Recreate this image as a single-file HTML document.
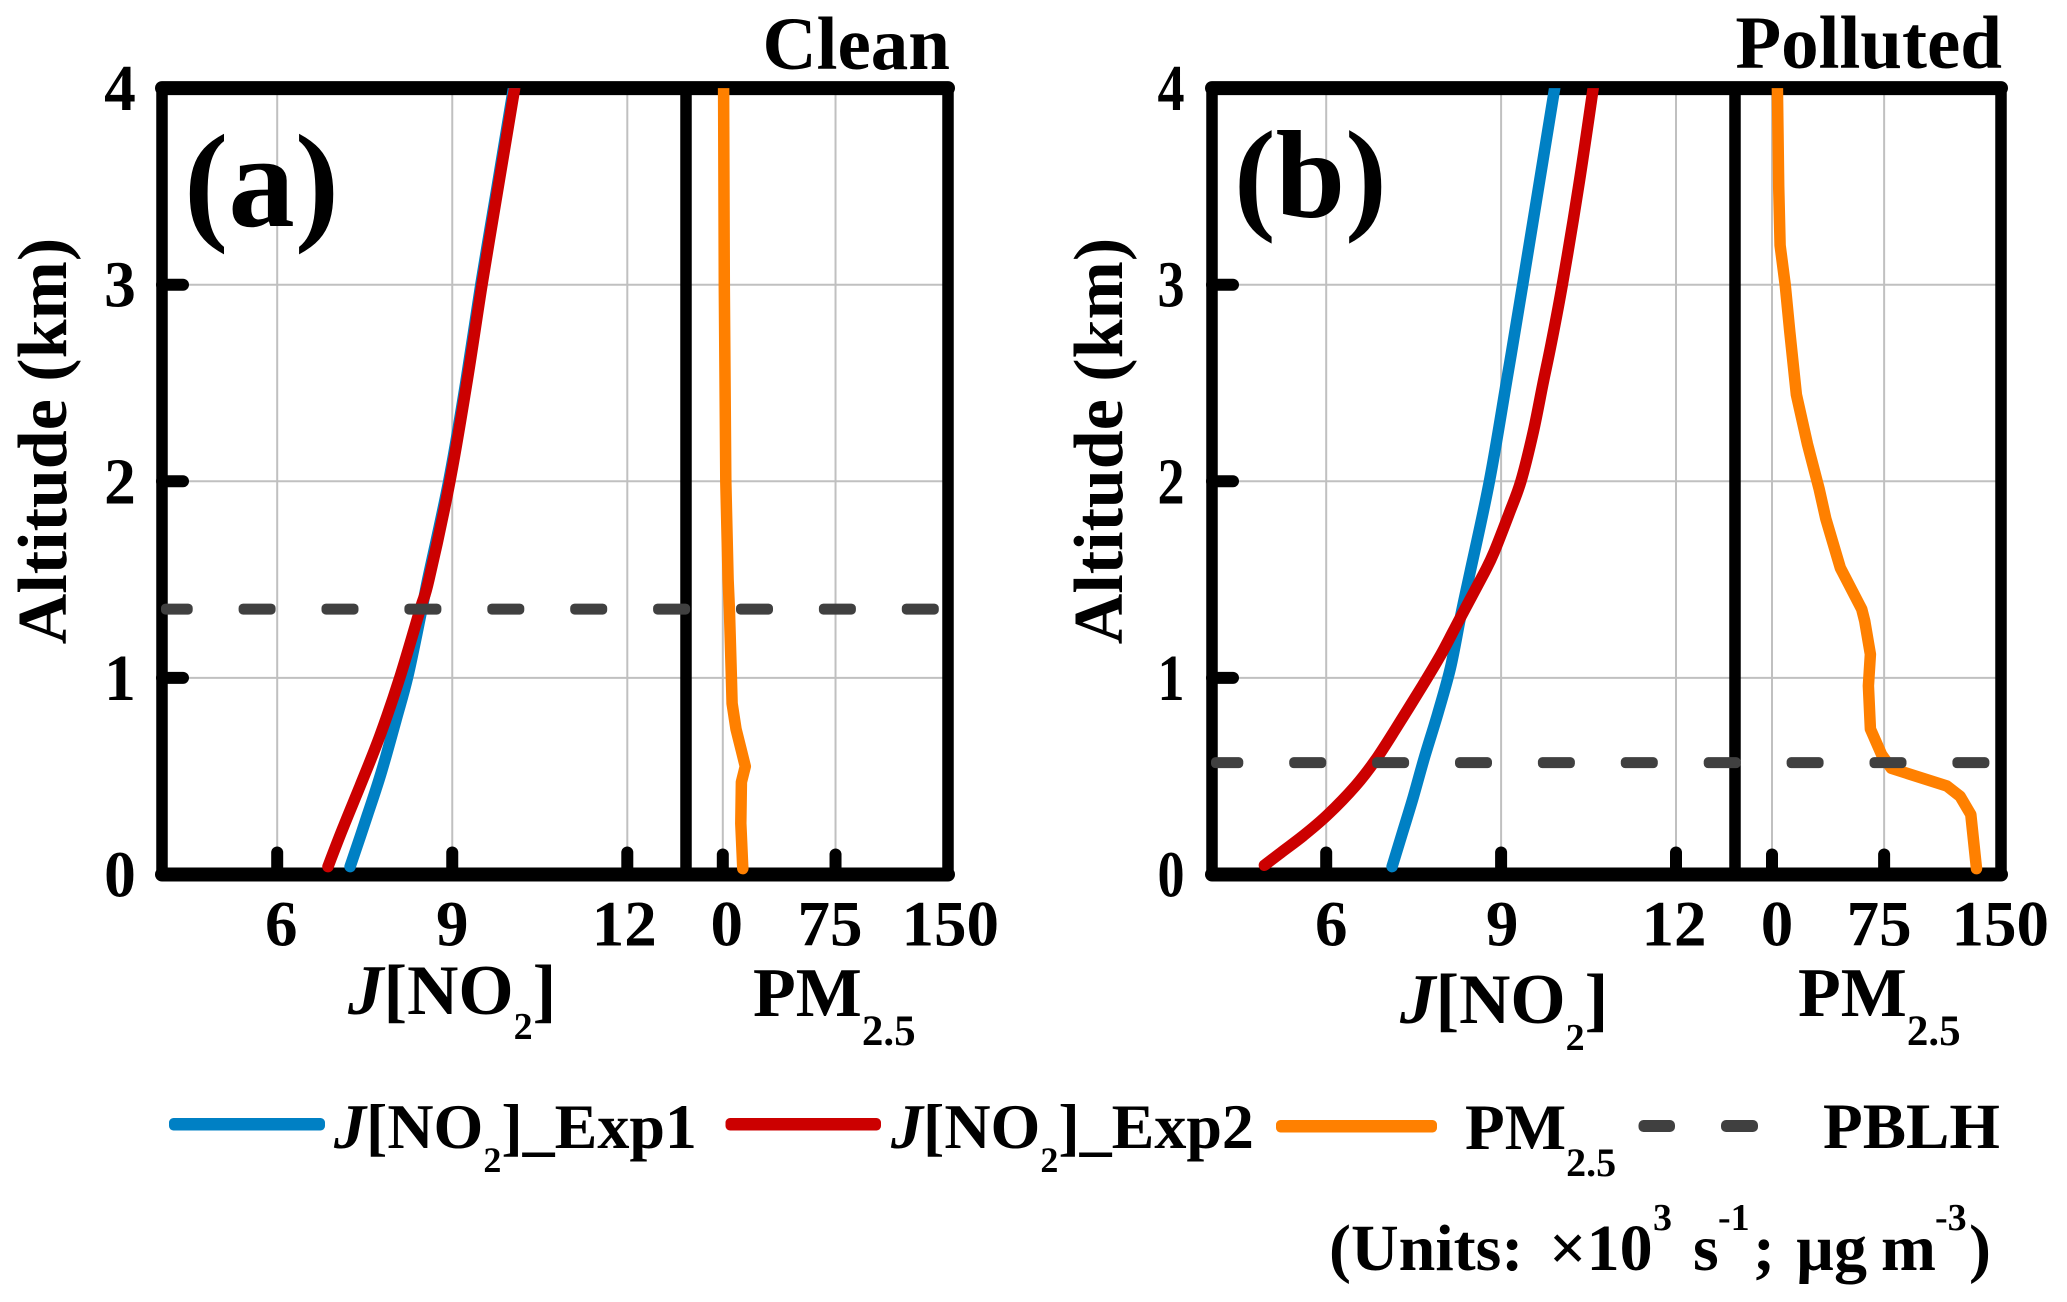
<!DOCTYPE html>
<html>
<head>
<meta charset="utf-8">
<title>J[NO2] and PM2.5 profiles</title>
<style>
html,body{margin:0;padding:0;background:#fff;}
svg{display:block;}
text{font-family:"Liberation Serif","DejaVu Serif",serif;font-weight:bold;fill:#000;}
</style>
</head>
<body>
<svg id="chart" xmlns="http://www.w3.org/2000/svg" width="2067" height="1302" viewBox="0 0 2067 1302">
<rect x="0" y="0" width="2067" height="1302" fill="#fff"/>
<g id="plots"></g>

<text x="950" y="69" font-size="75" text-anchor="end">Clean</text>
<text x="2002" y="68" font-size="75" text-anchor="end">Polluted</text>
<text x="184" y="226" font-size="133">(a)</text>
<text x="1234" y="217" font-size="125">(b)</text>

<text transform="translate(66 441) rotate(-90)" font-size="70" text-anchor="middle">Altitude (km)</text>
<text transform="translate(1122 441) rotate(-90)" font-size="70" text-anchor="middle">Altitude (km)</text>

<text x="348" y="1014" font-size="71"><tspan font-style="italic">J</tspan>[NO<tspan font-size="38" dy="25">2</tspan><tspan dy="-25">]</tspan></text>
<text x="753" y="1016" font-size="70">PM<tspan font-size="43" dy="29">2.5</tspan></text>
<text x="1400" y="1023" font-size="71"><tspan font-style="italic">J</tspan>[NO<tspan font-size="38" dy="27">2</tspan><tspan dy="-27">]</tspan></text>
<text x="1798" y="1016" font-size="70">PM<tspan font-size="43" dy="29">2.5</tspan></text>

<g>
  <rect x="169" y="1118" width="156" height="12.5" rx="4.5" fill="#0080c4"/>
  <text x="334" y="1148" font-size="64"><tspan font-style="italic">J</tspan>[NO<tspan font-size="36" dy="24">2</tspan><tspan dy="-24">]_Exp1</tspan></text>
  <rect x="725.5" y="1118" width="155.5" height="12.5" rx="4.5" fill="#cc0000"/>
  <text x="891" y="1148" font-size="64"><tspan font-style="italic">J</tspan>[NO<tspan font-size="36" dy="24">2</tspan><tspan dy="-24">]_Exp2</tspan></text>
  <rect x="1276" y="1120" width="161" height="12.5" rx="4.5" fill="#ff8000"/>
  <text x="1465" y="1149" font-size="65">PM<tspan font-size="40" dy="27">2.5</tspan></text>
  <rect x="1638.5" y="1120" width="36.5" height="12" rx="5" fill="#404040"/>
  <rect x="1721" y="1120" width="37" height="12" rx="5" fill="#404040"/>
  <text x="1823" y="1148" font-size="65">PBLH</text>
</g>
<text y="1270" font-size="66"><tspan x="1329">(Units:</tspan><tspan x="1549">×10</tspan><tspan x="1653" font-size="38" dy="-40">3</tspan><tspan x="1693" dy="40">s</tspan><tspan x="1718" font-size="38" dy="-40">-1</tspan><tspan x="1753" dy="40">;</tspan><tspan x="1796">µg</tspan><tspan x="1881">m</tspan><tspan x="1935" font-size="38" dy="-40">-3</tspan><tspan x="1969" dy="40">)</tspan></text>
</svg>

<script>
// Tick values
const jTicks = [6, 9, 12];
const pmTicks = [0, 75, 150];
const altTicks = [0, 1, 2, 3, 4];

// Panel (a) Clean: altitude (km) and values
const altExp1A = [4, 3.5, 3, 2.5, 2, 1.5, 1.35, 1.01, 0.78, 0.525, 0.305, 0.04];
const jExp1A = [10.05, 9.77, 9.49, 9.23, 8.94, 8.58, 8.48, 8.24, 8.03, 7.79, 7.55, 7.25];
const altExp2A = [4, 3.5, 3, 2.5, 2, 1.5, 1.35, 1, 0.705, 0.45, 0.232, 0.04];
const jExp2A = [10.07, 9.79, 9.51, 9.25, 8.96, 8.6, 8.45, 8.1, 7.76, 7.42, 7.12, 6.87];
const altPmA = [4, 3, 2, 1.5, 1.35, 1, 0.87, 0.74, 0.63, 0.55, 0.47, 0.26, 0.03];
const pmA = [0.5, 1, 2, 3.5, 4.4, 5.7, 6.2, 8.8, 12.4, 15, 12.4, 12, 13.3];
const pblhA = 1.35;

// Panel (b) Polluted: altitude (km) and values
const altExp1B = [4, 3, 2.5, 2, 1.54, 1.32, 1.05, 0.815, 0.6, 0.38, 0.215, 0.04];
const jExp1B = [9.92, 9.37, 9.09, 8.8, 8.47, 8.31, 8.13, 7.91, 7.69, 7.48, 7.31, 7.13];
const altExp2B = [4, 3.5, 3, 2.7, 2.5, 2.25, 2, 1.83, 1.64, 1.54, 1.3, 1.12, 0.96, 0.74, 0.58, 0.45, 0.305, 0.196, 0.115, 0.047];
const jExp2B = [10.58, 10.33, 10.05, 9.86, 9.72, 9.55, 9.34, 9.13, 8.88, 8.72, 8.29, 7.97, 7.65, 7.19, 6.84, 6.5, 6.03, 5.6, 5.24, 4.94];
const altPmB = [4, 3.5, 3.2, 3, 2.76, 2.44, 2.19, 1.96, 1.81, 1.56, 1.35, 1.29, 1.12, 0.96, 0.74, 0.61, 0.54, 0.45, 0.398, 0.305, 0.03];
const pmB = [3.6, 4.5, 5.4, 8.8, 11.9, 16.3, 23.7, 31.6, 36, 45.7, 60, 62, 65.8, 64.5, 65.8, 73.3, 79.8, 117, 125.8, 133, 136.8];
const pblhB = 0.569;

const NS = 'http://www.w3.org/2000/svg';
const root = document.getElementById('plots');

function yAlt(a) { return 874.5 - 196.6 * a; }

function make(tag, attrs, parent) {
  const el = document.createElementNS(NS, tag);
  for (const k in attrs) el.setAttribute(k, attrs[k]);
  parent.appendChild(el);
  return el;
}

function straightPath(pts) {
  return pts.map((p, i) => (i ? 'L' : 'M') + p[0].toFixed(1) + ' ' + p[1].toFixed(1)).join(' ');
}

function smoothPath(pts) {
  let d = 'M' + pts[0][0].toFixed(1) + ' ' + pts[0][1].toFixed(1);
  for (let i = 0; i < pts.length - 1; i++) {
    const p0 = pts[Math.max(i - 1, 0)], p1 = pts[i], p2 = pts[i + 1], p3 = pts[Math.min(i + 2, pts.length - 1)];
    const c1x = p1[0] + (p2[0] - p0[0]) / 6, c1y = p1[1] + (p2[1] - p0[1]) / 6;
    const c2x = p2[0] - (p3[0] - p1[0]) / 6, c2y = p2[1] - (p3[1] - p1[1]) / 6;
    d += ' C' + c1x.toFixed(1) + ' ' + c1y.toFixed(1) + ' ' + c2x.toFixed(1) + ' ' + c2y.toFixed(1) + ' ' + p2[0].toFixed(1) + ' ' + p2[1].toFixed(1);
  }
  return d;
}

function drawPanel(id, cfg, series) {
  const xJ = v => cfg.j6 + (v - 6) * cfg.jScale;
  const xPm = v => cfg.pm0 + v * cfg.pmScale;
  const top = yAlt(4), bottom = yAlt(0);

  const g = make('g', {}, root);
  
  

  // Gridlines
  altTicks.slice(1, 4).forEach(a => {
    const gl = make('line', {x1: cfg.left, x2: cfg.right, y1: yAlt(a), y2: yAlt(a), stroke: '#c0c0c0', 'stroke-width': 2}, g);
    
    
  });
  jTicks.forEach(v => {
    const gl = make('line', {x1: xJ(v), x2: xJ(v), y1: top, y2: bottom, stroke: '#c0c0c0', 'stroke-width': 2}, g);
    
    
  });
  pmTicks.slice(0, 2).forEach(v => {
    const gl = make('line', {x1: xPm(v), x2: xPm(v), y1: top, y2: bottom, stroke: '#c0c0c0', 'stroke-width': 2}, g);
    
    
  });

  // Tick marks
  altTicks.slice(1, 4).forEach(a => {
    const t = make('line', {x1: cfg.left, x2: cfg.left + 21, y1: yAlt(a), y2: yAlt(a), stroke: '#000', 'stroke-width': 12, 'stroke-linecap': 'round'}, g);
    
    
  });
  jTicks.forEach(v => {
    const t = make('line', {x1: xJ(v), x2: xJ(v), y1: bottom, y2: bottom - 22, stroke: '#000', 'stroke-width': 12, 'stroke-linecap': 'round'}, g);
    
    
  });
  pmTicks.slice(0, 2).forEach(v => {
    const t = make('line', {x1: xPm(v), x2: xPm(v), y1: bottom, y2: bottom - 20, stroke: '#000', 'stroke-width': 12, 'stroke-linecap': 'round'}, g);
    
    
  });

  // Frame
  const frame = make('rect', {x: cfg.left, y: top, width: cfg.right - cfg.left, height: bottom - top, fill: 'none', stroke: '#000', 'stroke-width': 11.5, 'stroke-linejoin': 'round'}, g);
  
  
  const ft = make('line', {x1: cfg.left, x2: cfg.right, y1: top, y2: top, stroke: '#000', 'stroke-width': 14, 'stroke-linecap': 'round'}, g);
  
  
  const fb = make('line', {x1: cfg.left, x2: cfg.right, y1: bottom, y2: bottom, stroke: '#000', 'stroke-width': 14, 'stroke-linecap': 'round'}, g);
  
  
  const dv = make('line', {x1: cfg.divider, x2: cfg.divider, y1: top, y2: bottom, stroke: '#000', 'stroke-width': 11.5}, g);
  
  

  // Clip so lines stop at the top-frame centre
  const cp = make('clipPath', {id: 'clip-' + id}, g);
  make('rect', {x: cfg.left - 10, y: top, width: cfg.right - cfg.left + 20, height: bottom - top + 10}, cp);

  // Series
  function curve(name, xs, alts, scale, colour, smooth) {
    const pts = xs.map((v, i) => [scale(v), yAlt(alts[i])]);
    const d = smooth ? smoothPath(pts) : straightPath(pts);
    const p = make('path', {d: d, fill: 'none', stroke: colour, 'stroke-width': 11.5, 'stroke-linecap': 'round', 'stroke-linejoin': 'round', 'clip-path': 'url(#clip-' + id + ')'}, g);
    
    
  }
  curve('line-j-no2-exp1', series.j1, series.a1, xJ, '#0080c4', true);
  curve('line-j-no2-exp2', series.j2, series.a2, xJ, '#cc0000', true);
  curve('line-pm25', series.pm, series.ap, xPm, '#ff8000', false);

  // PBLH dashed line
  const yP = yAlt(series.pblh);
  for (let x = cfg.dashStart; x < cfg.dashEnd; x += 82.9) {
    const x0 = Math.max(x, cfg.left - 1);
    const x1 = x + 37;
    const dash = make('rect', {x: x0, y: yP - 5.5, width: x1 - x0, height: 11, rx: 4.5, fill: '#404040'}, g);
    
    
  }

  // Tick labels
  altTicks.forEach(a => {
    const t = make('text', {transform: 'translate(' + cfg.yLabelX + ' ' + (yAlt(a) + 22) + ') scale(' + cfg.yScaleX + ' 1)', 'font-size': 66, 'text-anchor': 'middle'}, g);
    
    
    t.textContent = a;
  });
  jTicks.forEach((v, i) => {
    const t = make('text', {x: xJ(v) + cfg.jNudge[i], y: 945.5, 'font-size': 65, 'text-anchor': 'middle'}, g);
    
    
    t.textContent = v;
  });
  pmTicks.forEach((v, i) => {
    const t = make('text', {x: xPm(v) + cfg.pmNudge[i], y: 945.5, 'font-size': 65, 'text-anchor': 'middle'}, g);
    
    
    t.textContent = v;
  });
}

drawPanel('a',
  {left: 162, right: 948, divider: 686, j6: 277.2, jScale: 58.35, pm0: 722.8, pmScale: 1.503, yLabelX: 120, yScaleX: 0.96, dashStart: 155.7, dashEnd: 935, jNudge: [4, 0, -3], pmNudge: [4, -5.5, 2]},
  {j1: jExp1A, a1: altExp1A, j2: jExp2A, a2: altExp2A, pm: pmA, ap: altPmA, pblh: pblhA});

drawPanel('b',
  {left: 1212, right: 2001, divider: 1735, j6: 1326.2, jScale: 58.3, pm0: 1772, pmScale: 1.495, yLabelX: 1171, yScaleX: 0.82, dashStart: 1206.3, dashEnd: 1985, jNudge: [5, 1, -2], pmNudge: [5, -5, 4]},
  {j1: jExp1B, a1: altExp1B, j2: jExp2B, a2: altExp2B, pm: pmB, ap: altPmB, pblh: pblhB});
</script>
</body>
</html>
